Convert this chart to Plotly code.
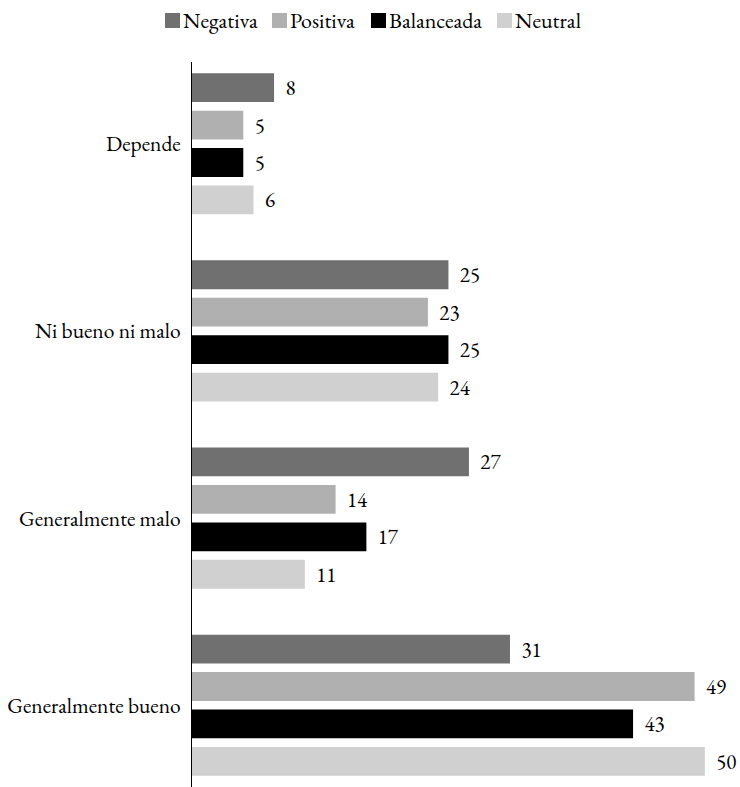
import plotly.graph_objects as go

categories = ["Depende", "Ni bueno ni malo", "Generalmente malo", "Generalmente bueno"]
series_names = ["Negativa", "Positiva", "Balanceada", "Neutral"]
negativa = [8, 25, 27, 31]
positiva = [5, 23, 14, 49]
balanceada = [5, 25, 17, 43]
neutral = [6, 24, 11, 50]
colors = ["#707070", "#b0b0b0", "#000000", "#d0d0d0"]

values = [negativa, positiva, balanceada, neutral]
FONT = "EB Garamond"
FS = 22

W, H = 740, 787
ML, MR, MT, MB = 192, 30, 62, 0
PW, PH = W - ML - MR, H - MT - MB


def px_to_paper_x(px):
    return (px - ML) / PW


def px_to_paper_y(py):
    return 1 - (py - MT) / PH


fig = go.Figure()
for name, vals, col in zip(series_names, values, colors):
    fig.add_trace(go.Bar(
        name=name, y=categories, x=vals, orientation="h",
        marker=dict(color=col, line=dict(width=0)),
        text=vals, texttemplate="  %{x}", textposition="outside",
        cliponaxis=False,
        textfont=dict(family=FONT, size=21, color="#000000"),
        showlegend=False, hoverinfo="skip",
    ))

# custom legend (square swatch immediately followed by its label)
legend_sq_left = [165, 272, 371, 497]
sq = 15
sq_top = 13
for name, col, left in zip(series_names, colors, legend_sq_left):
    fig.add_shape(type="rect", xref="paper", yref="paper",
                  x0=px_to_paper_x(left), x1=px_to_paper_x(left + sq),
                  y0=px_to_paper_y(sq_top + sq), y1=px_to_paper_y(sq_top),
                  fillcolor=col, line=dict(width=0), layer="above")
    fig.add_annotation(xref="paper", yref="paper",
                       x=px_to_paper_x(left + sq + 1), y=px_to_paper_y(sq_top + sq / 2),
                       xanchor="left", yanchor="middle", showarrow=False,
                       text=name, font=dict(family=FONT, size=FS, color="#000000"))

fig.update_layout(
    width=W, height=H,
    margin=dict(l=ML, r=MR, t=MT, b=MB, autoexpand=False),
    paper_bgcolor="white", plot_bgcolor="white",
    barmode="group", bargap=0.2, bargroupgap=0.23,
    font=dict(family=FONT, size=FS, color="#000000"),
    showlegend=False,
    xaxis=dict(range=[0, 50.5], showgrid=False, zeroline=False, showticklabels=False,
               showline=False, ticks="", automargin=False),
    yaxis=dict(range=[3.437, -0.437], showgrid=False, zeroline=False, showline=True,
               linecolor="#000000", linewidth=1, ticks="", ticklabelstandoff=6,
               automargin=False, tickfont=dict(family=FONT, size=21.5)),
)

fig.write_html("out.html", config={"displayModeBar": False},
               post_script="document.body.style.margin='0';")
